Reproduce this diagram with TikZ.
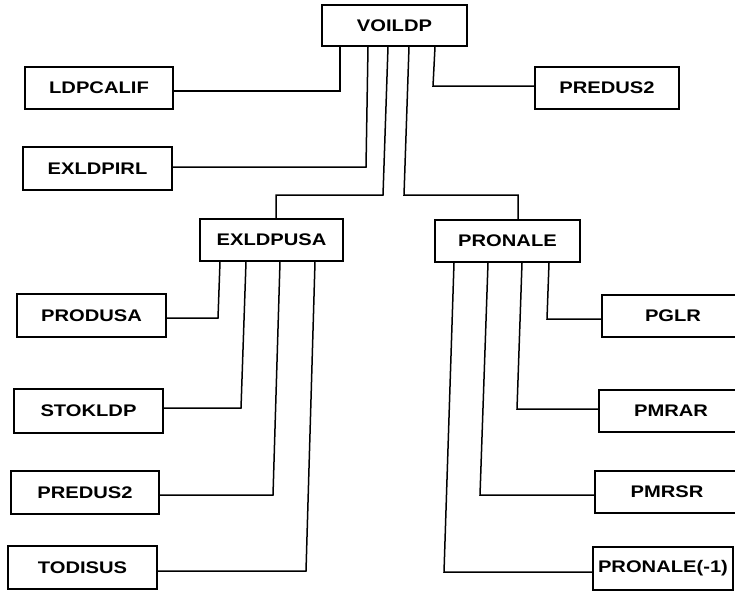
\documentclass[tikz,border=0pt]{standalone}
\usepackage{fontspec}
\setmainfont{Liberation Sans}[FakeStretch=1.2]
\begin{document}
\begin{tikzpicture}[x=1pt,y=-1pt,
  box/.style={draw, line width=1.5pt, inner sep=0pt,
    font=\fontsize{16.8}{19}\selectfont\bfseries},
  link/.style={line width=1.5pt}]
\useasboundingbox (0,0) rectangle (735,590);
\clip (0,0) rectangle (735,590);
% nodes
\node[box, minimum width=145pt, minimum height=41pt] (voildp) at (394.5,25.5) {VOILDP};
\node[box, minimum width=148pt, minimum height=42pt] (ldpcalif) at (99,88) {LDPCALIF};
\node[box, minimum width=149pt, minimum height=43pt] (exldpirl) at (97.5,168.5) {EXLDPIRL};
\node[box, minimum width=144pt, minimum height=42pt] (predustop) at (607,88) {PREDUS2};
\node[box, minimum width=143pt, minimum height=42pt] (exldpusa) at (271.5,240) {EXLDPUSA};
\node[box, minimum width=145pt, minimum height=42pt] (pronale) at (507.5,241) {PRONALE};
\node[box, minimum width=149pt, minimum height=43pt] (produsa) at (91.5,315.5) {PRODUSA};
\node[box, minimum width=149pt, minimum height=44pt] (stokldp) at (88.5,411) {STOKLDP};
\node[box, minimum width=148pt, minimum height=43pt] (predusleft) at (85,492.5) {PREDUS2};
\node[box, minimum width=149pt, minimum height=43pt] (todisus) at (82.5,567.5) {TODISUS};
\node[box, minimum width=142pt, minimum height=42pt] (pglr) at (673,316) {PGLR};
\node[box, minimum width=144pt, minimum height=42pt] (pmrar) at (671,411) {PMRAR};
\node[box, minimum width=144pt, minimum height=42pt] (pmrsr) at (667,492) {PMRSR};
\node[box, minimum width=140pt, minimum height=43pt] (pronalem) at (663,568.5) {PRONALE(-1)};
% connectors from VOILDP
\draw[link] (voildp.south -| 340,0) -- (340,91) -- (ldpcalif.east |- 0,91);
\draw[link] (voildp.south -| 368,0) -- (366,167) -- (exldpirl.east |- 0,167);
\draw[link] (voildp.south -| 388,0) -- (383,195) -- (276,195) -- (exldpusa.north -| 276,0);
\draw[link] (voildp.south -| 409,0) -- (404,195) -- (518,195) -- (pronale.north -| 518,0);
\draw[link] (voildp.south -| 435,0) -- (433,86) -- (predustop.west |- 0,86);
% connectors from EXLDPUSA
\draw[link] (exldpusa.south -| 220,0) -- (218,318) -- (produsa.east |- 0,318);
\draw[link] (exldpusa.south -| 246,0) -- (241,408) -- (stokldp.east |- 0,408);
\draw[link] (exldpusa.south -| 280,0) -- (273,495) -- (predusleft.east |- 0,495);
\draw[link] (exldpusa.south -| 315,0) -- (306,571) -- (todisus.east |- 0,571);
% connectors from PRONALE
\draw[link] (pronale.south -| 549,0) -- (547,319) -- (pglr.west |- 0,319);
\draw[link] (pronale.south -| 522,0) -- (517,409) -- (pmrar.west |- 0,409);
\draw[link] (pronale.south -| 488,0) -- (480,495) -- (pmrsr.west |- 0,495);
\draw[link] (pronale.south -| 454,0) -- (444,572) -- (pronalem.west |- 0,572);
\end{tikzpicture}
\end{document}
